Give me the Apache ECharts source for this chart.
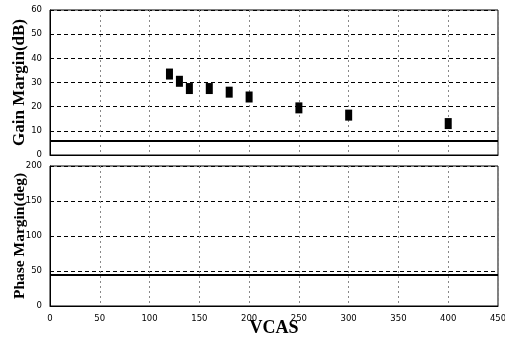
<!DOCTYPE html>
<html>
<head>
<meta charset="utf-8">
<script src="https://cdn.jsdelivr.net/npm/echarts@6/dist/echarts.min.js"></script>
<style>
html, body { margin: 0; padding: 0; background: #fff; }
#main { width: 505px; height: 339px; }
</style>
</head>
<body>
<div id="main"></div>
<script>
// 数据
var vcas = [120, 130, 140, 160, 180, 200, 250, 300, 400];
var gainMargin = [33.5, 30.5, 27.5, 27.5, 26, 24, 19.5, 16.5, 13];
var gainLimit = 6;
var phaseLimit = 45;

var gainData = vcas.map(function (v, i) { return [v, gainMargin[i]]; });

var splitH = { show: true, lineStyle: { color: '#000', type: [4, 3], width: 1 } };
var splitV = { show: true, lineStyle: { color: '#888', type: [2, 3], width: 1 } };
var tickLabel = { fontSize: 8.5, color: '#000', fontFamily: 'DejaVu Sans' };

var myChart = echarts.init(document.getElementById('main'));

myChart.setOption({
	animation : false,
	backgroundColor : '#fff',
	grid : [
		{ left : 50, top : 10, width : 448, height : 145, show : true, borderColor : '#000', borderWidth : 1, containLabel : false, outerBoundsMode : 'none' },
		{ left : 50, top : 166, width : 448, height : 140, show : true, borderColor : '#000', borderWidth : 1, containLabel : false, outerBoundsMode : 'none' }
	],
	xAxis : [ {
		gridIndex : 0,
		type : 'value',
		min : 0,
		max : 450,
		interval : 50,
		axisLabel : { show : false },
		axisTick : { show : false },
		axisLine : { lineStyle : { color : '#000' } },
		splitLine : splitV
	}, {
		gridIndex : 1,
		type : 'value',
		min : 0,
		max : 450,
		interval : 50,
		name : 'VCAS',
		nameLocation : 'middle',
		nameGap : 13,
		nameMoveOverlap : false,
		nameTextStyle : { fontSize : 18, fontWeight : 'bold', fontFamily : 'Liberation Serif', color : '#000', verticalAlign : 'top' },
		axisLabel : tickLabel,
		axisTick : { show : false },
		axisLine : { lineStyle : { color : '#000' } },
		splitLine : splitV
	} ],
	yAxis : [ {
		gridIndex : 0,
		type : 'value',
		min : 0,
		max : 60,
		interval : 10,
		name : 'Gain Margin(dB)',
		nameLocation : 'middle',
		nameGap : 22,
		nameMoveOverlap : false,
		nameTextStyle : { fontSize : 17, fontWeight : 'bold', fontFamily : 'Liberation Serif', color : '#000' },
		axisLabel : tickLabel,
		axisTick : { show : false },
		axisLine : { lineStyle : { color : '#000' } },
		splitLine : splitH
	}, {
		gridIndex : 1,
		type : 'value',
		min : 0,
		max : 200,
		interval : 50,
		name : 'Phase Margin(deg)',
		nameLocation : 'middle',
		nameGap : 22,
		nameMoveOverlap : false,
		nameTextStyle : { fontSize : 15.5, fontWeight : 'bold', fontFamily : 'Liberation Serif', color : '#000' },
		axisLabel : tickLabel,
		axisTick : { show : false },
		axisLine : { lineStyle : { color : '#000' } },
		splitLine : splitH
	} ],
	series : [ {
		name : 'Gain Margin',
		type : 'scatter',
		xAxisIndex : 0,
		yAxisIndex : 0,
		symbol : 'rect',
		symbolSize : [7, 11],
		itemStyle : { color : '#000', opacity : 1 },
		data : gainData,
		markLine : {
			silent : true,
			symbol : 'none',
			label : { show : false },
			lineStyle : { color : '#000', type : 'solid', width : 2 },
			data : [ { yAxis : gainLimit } ]
		}
	}, {
		name : 'Phase Margin',
		type : 'scatter',
		xAxisIndex : 1,
		yAxisIndex : 1,
		data : [],
		markLine : {
			silent : true,
			symbol : 'none',
			label : { show : false },
			lineStyle : { color : '#000', type : 'solid', width : 2 },
			data : [ { yAxis : phaseLimit } ]
		}
	} ]
});
</script>
</body>
</html>
